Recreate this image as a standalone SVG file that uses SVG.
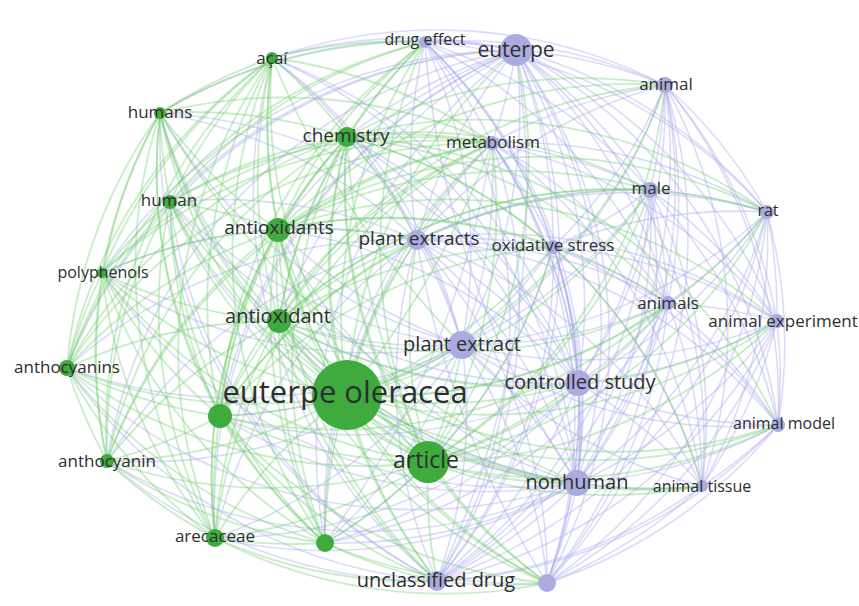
<svg xmlns="http://www.w3.org/2000/svg" width="859" height="606" viewBox="0 0 859 606">
<style>
.e path{fill:none}
.g{stroke:#72cc6e;stroke-width:1.8;stroke-opacity:.38}
.p{stroke:#aaaaf0;stroke-width:1.6;stroke-opacity:.42}
.ng{fill:#3fab3f}
.np{fill:#ababdf}
text{font-family:"Open Sans","DejaVu Sans",sans-serif;fill:#2e2e2e;text-anchor:middle}
.t16{font-size:16px}.t17{font-size:17px}.t19{font-size:19px}.t20{font-size:20px}.t21{font-size:21px}.t23{font-size:23px}.t30{font-size:31px}
</style>
<rect width="859" height="606" fill="#fff"/>
<g id="connectors" class="e">
<g class="p">
<path d="M777 321A500 500 0 0 1 778 425"/><path d="M777 321A500 500 0 0 1 578 383"/><path d="M777 321A500 500 0 0 1 702 486"/><path d="M777 321A500 500 0 0 1 462 345"/><path d="M777 321A500 500 0 0 1 577 483"/><path d="M777 321A500 500 0 0 1 547 583"/><path d="M777 321A500 500 0 0 1 437 581"/><path d="M777 321A500 500 0 0 0 417 240"/><path d="M777 321A500 500 0 0 0 516 50"/><path d="M777 321A500 500 0 0 0 492 143"/><path d="M777 321A500 500 0 0 0 665 85"/><path d="M777 321A500 500 0 0 0 650 190"/><path d="M777 321A500 500 0 0 0 553 247"/><path d="M777 321A500 500 0 0 0 767 212"/><path d="M777 321A500 500 0 0 0 668 303"/>
<path d="M778 425A500 500 0 0 1 578 383"/><path d="M778 425A500 500 0 0 1 702 486"/><path d="M778 425A500 500 0 0 1 462 345"/><path d="M778 425A500 500 0 0 1 577 483"/><path d="M778 425A500 500 0 0 1 547 583"/><path d="M778 425A500 500 0 0 1 437 581"/><path d="M778 425A500 500 0 0 0 417 240"/><path d="M778 425A500 500 0 0 0 516 50"/><path d="M778 425A500 500 0 0 0 665 85"/><path d="M778 425A500 500 0 0 0 650 190"/><path d="M778 425A500 500 0 0 0 553 247"/><path d="M778 425A500 500 0 0 0 767 212"/><path d="M778 425A500 500 0 0 0 668 303"/>
<path d="M578 383A500 500 0 0 1 702 486"/><path d="M578 383A500 500 0 0 1 462 345"/><path d="M578 383A500 500 0 0 1 577 483"/><path d="M578 383A500 500 0 0 1 547 583"/><path d="M578 383A500 500 0 0 1 437 581"/><path d="M578 383A500 500 0 0 1 325 543"/><path d="M578 383A500 500 0 0 1 215 538"/><path d="M578 383A500 500 0 0 1 220 416"/><path d="M578 383A500 500 0 0 1 279 321"/><path d="M578 383A500 500 0 0 1 170 202"/><path d="M578 383A500 500 0 0 0 278 230"/><path d="M578 383A500 500 0 0 0 160 113"/><path d="M578 383A500 500 0 0 0 272 58"/><path d="M578 383A500 500 0 0 0 347 137"/><path d="M578 383A500 500 0 0 0 417 240"/><path d="M578 383A500 500 0 0 0 425 42"/><path d="M578 383A500 500 0 0 0 516 50"/><path d="M578 383A500 500 0 0 0 492 143"/><path d="M578 383A500 500 0 0 0 665 85"/><path d="M578 383A500 500 0 0 0 650 190"/><path d="M578 383A500 500 0 0 0 553 247"/><path d="M578 383A500 500 0 0 0 767 212"/><path d="M578 383A500 500 0 0 0 668 303"/>
<path d="M702 486A500 500 0 0 1 462 345"/><path d="M702 486A500 500 0 0 1 577 483"/><path d="M702 486A500 500 0 0 1 547 583"/><path d="M702 486A500 500 0 0 1 437 581"/><path d="M702 486A500 500 0 0 0 417 240"/><path d="M702 486A500 500 0 0 0 516 50"/><path d="M702 486A500 500 0 0 0 492 143"/><path d="M702 486A500 500 0 0 0 665 85"/><path d="M702 486A500 500 0 0 0 650 190"/><path d="M702 486A500 500 0 0 0 553 247"/><path d="M702 486A500 500 0 0 0 767 212"/><path d="M702 486A500 500 0 0 0 668 303"/>
<path d="M462 345A500 500 0 0 1 577 483"/><path d="M462 345A500 500 0 0 1 547 583"/><path d="M462 345A500 500 0 0 1 437 581"/><path d="M462 345A500 500 0 0 1 325 543"/><path d="M462 345A500 500 0 0 1 215 538"/><path d="M462 345A500 500 0 0 1 220 416"/><path d="M462 345A500 500 0 0 1 107 461"/><path d="M462 345A500 500 0 0 1 67 368"/><path d="M462 345A500 500 0 0 1 279 321"/><path d="M462 345A500 500 0 0 1 102 273"/><path d="M462 345A500 500 0 0 1 170 202"/><path d="M462 345A500 500 0 0 1 278 230"/><path d="M462 345A500 500 0 0 1 160 113"/><path d="M462 345A500 500 0 0 0 272 58"/><path d="M462 345A500 500 0 0 0 347 137"/><path d="M462 345A500 500 0 0 0 417 240"/><path d="M462 345A500 500 0 0 0 425 42"/><path d="M462 345A500 500 0 0 0 516 50"/><path d="M462 345A500 500 0 0 0 492 143"/><path d="M462 345A500 500 0 0 0 665 85"/><path d="M462 345A500 500 0 0 0 650 190"/><path d="M462 345A500 500 0 0 0 553 247"/><path d="M462 345A500 500 0 0 0 767 212"/><path d="M462 345A500 500 0 0 0 668 303"/>
<path d="M577 483A500 500 0 0 1 547 583"/><path d="M577 483A500 500 0 0 1 437 581"/><path d="M577 483A500 500 0 0 1 325 543"/><path d="M577 483A500 500 0 0 1 215 538"/><path d="M577 483A500 500 0 0 1 220 416"/><path d="M577 483A500 500 0 0 1 107 461"/><path d="M577 483A500 500 0 0 1 67 368"/><path d="M577 483A500 500 0 0 1 279 321"/><path d="M577 483A500 500 0 0 1 102 273"/><path d="M577 483A500 500 0 0 1 170 202"/><path d="M577 483A500 500 0 0 1 278 230"/><path d="M577 483A500 500 0 0 1 160 113"/><path d="M577 483A500 500 0 0 0 272 58"/><path d="M577 483A500 500 0 0 0 347 137"/><path d="M577 483A500 500 0 0 0 417 240"/><path d="M577 483A500 500 0 0 0 425 42"/><path d="M577 483A500 500 0 0 0 516 50"/><path d="M577 483A500 500 0 0 0 492 143"/><path d="M577 483A500 500 0 0 0 665 85"/><path d="M577 483A500 500 0 0 0 650 190"/><path d="M577 483A500 500 0 0 0 553 247"/><path d="M577 483A500 500 0 0 0 767 212"/><path d="M577 483A500 500 0 0 0 668 303"/>
<path d="M547 583A500 500 0 0 1 437 581"/><path d="M547 583A500 500 0 0 0 417 240"/><path d="M547 583A500 500 0 0 0 516 50"/><path d="M547 583A500 500 0 0 0 492 143"/><path d="M547 583A500 500 0 0 0 665 85"/><path d="M547 583A500 500 0 0 0 650 190"/><path d="M547 583A500 500 0 0 0 553 247"/><path d="M547 583A500 500 0 0 0 767 212"/><path d="M547 583A500 500 0 0 0 668 303"/>
<path d="M437 581A500 500 0 0 1 107 461"/><path d="M437 581A500 500 0 0 1 67 368"/><path d="M437 581A500 500 0 0 1 170 202"/><path d="M437 581A500 500 0 0 1 160 113"/><path d="M437 581A500 500 0 0 1 272 58"/><path d="M437 581A500 500 0 0 1 417 240"/><path d="M437 581A500 500 0 0 0 425 42"/><path d="M437 581A500 500 0 0 0 516 50"/><path d="M437 581A500 500 0 0 0 492 143"/><path d="M437 581A500 500 0 0 0 665 85"/><path d="M437 581A500 500 0 0 0 650 190"/><path d="M437 581A500 500 0 0 0 553 247"/><path d="M437 581A500 500 0 0 0 767 212"/><path d="M437 581A500 500 0 0 0 668 303"/>
<path d="M325 543A500 500 0 0 1 417 240"/><path d="M325 543A500 500 0 0 1 516 50"/><path d="M325 543A500 500 0 0 1 492 143"/><path d="M325 543A500 500 0 0 0 668 303"/><path d="M325 543A500 500 0 0 0 553 247"/>
<path d="M215 538A500 500 0 0 1 417 240"/><path d="M215 538A500 500 0 0 1 516 50"/><path d="M220 416A500 500 0 0 1 516 50"/><path d="M107 461A500 500 0 0 1 417 240"/><path d="M107 461A500 500 0 0 1 516 50"/><path d="M67 368A500 500 0 0 1 417 240"/><path d="M67 368A500 500 0 0 1 516 50"/><path d="M279 321A500 500 0 0 1 516 50"/><path d="M102 273A500 500 0 0 1 417 240"/><path d="M102 273A500 500 0 0 1 516 50"/><path d="M170 202A500 500 0 0 1 417 240"/><path d="M170 202A500 500 0 0 1 516 50"/><path d="M278 230A500 500 0 0 1 516 50"/><path d="M160 113A500 500 0 0 1 417 240"/><path d="M160 113A500 500 0 0 1 516 50"/><path d="M272 58A500 500 0 0 1 417 240"/><path d="M272 58A500 500 0 0 1 516 50"/><path d="M272 58A500 500 0 0 1 665 85"/><path d="M347 137A500 500 0 0 1 516 50"/>
<path d="M417 240A500 500 0 0 1 425 42"/><path d="M417 240A500 500 0 0 1 516 50"/><path d="M417 240A500 500 0 0 1 492 143"/><path d="M417 240A500 500 0 0 1 665 85"/><path d="M417 240A500 500 0 0 1 650 190"/><path d="M417 240A500 500 0 0 1 553 247"/><path d="M417 240A500 500 0 0 1 767 212"/><path d="M417 240A500 500 0 0 1 668 303"/>
<path d="M425 42A500 500 0 0 1 516 50"/><path d="M425 42A500 500 0 0 1 492 143"/><path d="M425 42A500 500 0 0 1 665 85"/><path d="M425 42A500 500 0 0 1 650 190"/><path d="M425 42A500 500 0 0 1 553 247"/><path d="M425 42A500 500 0 0 1 767 212"/><path d="M425 42A500 500 0 0 1 668 303"/>
<path d="M516 50A500 500 0 0 1 492 143"/><path d="M516 50A500 500 0 0 1 665 85"/><path d="M516 50A500 500 0 0 1 650 190"/><path d="M516 50A500 500 0 0 1 553 247"/><path d="M516 50A500 500 0 0 1 767 212"/><path d="M516 50A500 500 0 0 1 668 303"/>
<path d="M492 143A500 500 0 0 1 665 85"/><path d="M492 143A500 500 0 0 1 650 190"/><path d="M492 143A500 500 0 0 1 553 247"/><path d="M492 143A500 500 0 0 1 767 212"/><path d="M492 143A500 500 0 0 1 668 303"/>
<path d="M665 85A500 500 0 0 1 650 190"/><path d="M665 85A500 500 0 0 1 553 247"/><path d="M665 85A500 500 0 0 1 767 212"/><path d="M665 85A500 500 0 0 1 668 303"/>
<path d="M650 190A500 500 0 0 1 553 247"/><path d="M650 190A500 500 0 0 1 767 212"/><path d="M650 190A500 500 0 0 1 668 303"/><path d="M553 247A500 500 0 0 1 767 212"/><path d="M553 247A500 500 0 0 1 668 303"/><path d="M767 212A500 500 0 0 1 668 303"/>
<path d="M516 50A900 900 0 0 1 437 581"/><path d="M492 143A900 900 0 0 1 325 543"/><path d="M425 42A900 900 0 0 0 577 483"/><path d="M417 240A900 900 0 0 0 547 583"/>
</g>
<g class="g">
<path d="M777 321A500 500 0 0 1 428 462"/><path d="M777 321A500 500 0 0 1 347 395"/><path d="M777 321A500 500 0 0 1 279 321"/><path d="M777 321A500 500 0 0 0 278 230"/>
<path d="M778 425A500 500 0 0 1 428 462"/><path d="M778 425A500 500 0 0 1 347 395"/><path d="M778 425A500 500 0 0 1 279 321"/><path d="M778 425A500 500 0 0 0 347 137"/>
<path d="M578 383A500 500 0 0 1 428 462"/><path d="M578 383A500 500 0 0 1 347 395"/>
<path d="M702 486A500 500 0 0 1 428 462"/><path d="M702 486A500 500 0 0 1 347 395"/><path d="M702 486A500 500 0 0 1 279 321"/><path d="M702 486A500 500 0 0 0 347 137"/>
<path d="M462 345A500 500 0 0 1 428 462"/><path d="M462 345A500 500 0 0 1 347 395"/><path d="M577 483A500 500 0 0 1 428 462"/><path d="M577 483A500 500 0 0 1 347 395"/>
<path d="M547 583A500 500 0 0 1 428 462"/><path d="M547 583A500 500 0 0 1 325 543"/><path d="M547 583A500 500 0 0 1 215 538"/><path d="M547 583A500 500 0 0 1 347 395"/><path d="M547 583A500 500 0 0 1 220 416"/><path d="M547 583A500 500 0 0 1 279 321"/><path d="M547 583A500 500 0 0 1 278 230"/><path d="M547 583A500 500 0 0 1 347 137"/>
<path d="M437 581A500 500 0 0 1 428 462"/><path d="M437 581A500 500 0 0 1 325 543"/><path d="M437 581A500 500 0 0 1 215 538"/><path d="M437 581A500 500 0 0 1 347 395"/><path d="M437 581A500 500 0 0 1 220 416"/><path d="M437 581A500 500 0 0 1 279 321"/><path d="M437 581A500 500 0 0 1 278 230"/><path d="M437 581A500 500 0 0 1 347 137"/>
<path d="M428 462A500 500 0 0 1 325 543"/><path d="M428 462A500 500 0 0 1 215 538"/><path d="M428 462A500 500 0 0 1 347 395"/><path d="M428 462A500 500 0 0 1 220 416"/><path d="M428 462A500 500 0 0 1 107 461"/><path d="M428 462A500 500 0 0 1 67 368"/><path d="M428 462A500 500 0 0 1 279 321"/><path d="M428 462A500 500 0 0 1 102 273"/><path d="M428 462A500 500 0 0 1 170 202"/><path d="M428 462A500 500 0 0 1 278 230"/><path d="M428 462A500 500 0 0 1 160 113"/><path d="M428 462A500 500 0 0 1 272 58"/><path d="M428 462A500 500 0 0 1 347 137"/><path d="M428 462A500 500 0 0 1 417 240"/><path d="M428 462A500 500 0 0 1 425 42"/><path d="M428 462A500 500 0 0 0 516 50"/><path d="M428 462A500 500 0 0 0 492 143"/><path d="M428 462A500 500 0 0 0 665 85"/><path d="M428 462A500 500 0 0 0 650 190"/><path d="M428 462A500 500 0 0 0 553 247"/><path d="M428 462A500 500 0 0 0 767 212"/><path d="M428 462A500 500 0 0 0 668 303"/>
<path d="M325 543A500 500 0 0 1 215 538"/><path d="M325 543A500 500 0 0 1 347 395"/><path d="M325 543A500 500 0 0 1 220 416"/><path d="M325 543A500 500 0 0 1 107 461"/><path d="M325 543A500 500 0 0 1 67 368"/><path d="M325 543A500 500 0 0 1 279 321"/><path d="M325 543A500 500 0 0 1 102 273"/><path d="M325 543A500 500 0 0 1 170 202"/><path d="M325 543A500 500 0 0 1 278 230"/><path d="M325 543A500 500 0 0 1 160 113"/><path d="M325 543A500 500 0 0 1 272 58"/><path d="M325 543A500 500 0 0 1 347 137"/>
<path d="M215 538A500 500 0 0 1 347 395"/><path d="M215 538A500 500 0 0 1 220 416"/><path d="M215 538A500 500 0 0 1 107 461"/><path d="M215 538A500 500 0 0 1 67 368"/><path d="M215 538A500 500 0 0 1 279 321"/><path d="M215 538A500 500 0 0 1 102 273"/><path d="M215 538A500 500 0 0 1 170 202"/><path d="M215 538A500 500 0 0 1 278 230"/><path d="M215 538A500 500 0 0 1 160 113"/><path d="M215 538A500 500 0 0 1 272 58"/><path d="M215 538A500 500 0 0 1 347 137"/><path d="M215 538A500 500 0 0 1 492 143"/>
<path d="M347 395A500 500 0 0 1 220 416"/><path d="M347 395A500 500 0 0 1 107 461"/><path d="M347 395A500 500 0 0 1 67 368"/><path d="M347 395A500 500 0 0 1 279 321"/><path d="M347 395A500 500 0 0 1 102 273"/><path d="M347 395A500 500 0 0 1 170 202"/><path d="M347 395A500 500 0 0 1 278 230"/><path d="M347 395A500 500 0 0 1 160 113"/><path d="M347 395A500 500 0 0 1 272 58"/><path d="M347 395A500 500 0 0 1 347 137"/><path d="M347 395A500 500 0 0 1 417 240"/><path d="M347 395A500 500 0 0 1 425 42"/><path d="M347 395A500 500 0 0 1 516 50"/><path d="M347 395A500 500 0 0 1 492 143"/><path d="M347 395A500 500 0 0 0 665 85"/><path d="M347 395A500 500 0 0 0 650 190"/><path d="M347 395A500 500 0 0 0 553 247"/><path d="M347 395A500 500 0 0 0 767 212"/><path d="M347 395A500 500 0 0 0 668 303"/>
<path d="M220 416A500 500 0 0 1 107 461"/><path d="M220 416A500 500 0 0 1 67 368"/><path d="M220 416A500 500 0 0 1 279 321"/><path d="M220 416A500 500 0 0 1 102 273"/><path d="M220 416A500 500 0 0 1 170 202"/><path d="M220 416A500 500 0 0 1 278 230"/><path d="M220 416A500 500 0 0 1 160 113"/><path d="M220 416A500 500 0 0 1 272 58"/><path d="M220 416A500 500 0 0 1 347 137"/><path d="M220 416A500 500 0 0 1 417 240"/><path d="M220 416A500 500 0 0 1 425 42"/><path d="M220 416A500 500 0 0 1 492 143"/><path d="M220 416A500 500 0 0 1 650 190"/><path d="M220 416A500 500 0 0 1 553 247"/><path d="M220 416A500 500 0 0 0 668 303"/>
<path d="M107 461A500 500 0 0 1 67 368"/><path d="M107 461A500 500 0 0 1 279 321"/><path d="M107 461A500 500 0 0 1 102 273"/><path d="M107 461A500 500 0 0 1 170 202"/><path d="M107 461A500 500 0 0 1 278 230"/><path d="M107 461A500 500 0 0 1 160 113"/><path d="M107 461A500 500 0 0 1 272 58"/><path d="M107 461A500 500 0 0 1 347 137"/><path d="M107 461A500 500 0 0 1 492 143"/>
<path d="M67 368A500 500 0 0 1 279 321"/><path d="M67 368A500 500 0 0 1 102 273"/><path d="M67 368A500 500 0 0 1 170 202"/><path d="M67 368A500 500 0 0 1 278 230"/><path d="M67 368A500 500 0 0 1 160 113"/><path d="M67 368A500 500 0 0 1 272 58"/><path d="M67 368A500 500 0 0 1 347 137"/><path d="M67 368A500 500 0 0 1 425 42"/><path d="M67 368A500 500 0 0 1 492 143"/>
<path d="M279 321A500 500 0 0 1 102 273"/><path d="M279 321A500 500 0 0 1 170 202"/><path d="M279 321A500 500 0 0 1 278 230"/><path d="M279 321A500 500 0 0 1 160 113"/><path d="M279 321A500 500 0 0 1 272 58"/><path d="M279 321A500 500 0 0 1 347 137"/><path d="M279 321A500 500 0 0 1 417 240"/><path d="M279 321A500 500 0 0 1 425 42"/><path d="M279 321A500 500 0 0 1 492 143"/><path d="M279 321A500 500 0 0 1 665 85"/><path d="M279 321A500 500 0 0 1 650 190"/><path d="M279 321A500 500 0 0 1 553 247"/><path d="M279 321A500 500 0 0 1 767 212"/><path d="M279 321A500 500 0 0 0 668 303"/>
<path d="M102 273A500 500 0 0 1 170 202"/><path d="M102 273A500 500 0 0 1 278 230"/><path d="M102 273A500 500 0 0 1 160 113"/><path d="M102 273A500 500 0 0 1 272 58"/><path d="M102 273A500 500 0 0 1 347 137"/><path d="M102 273A500 500 0 0 1 492 143"/>
<path d="M170 202A500 500 0 0 1 278 230"/><path d="M170 202A500 500 0 0 1 160 113"/><path d="M170 202A500 500 0 0 1 272 58"/><path d="M170 202A500 500 0 0 1 347 137"/><path d="M170 202A500 500 0 0 1 425 42"/><path d="M170 202A500 500 0 0 1 492 143"/>
<path d="M278 230A500 500 0 0 1 160 113"/><path d="M278 230A500 500 0 0 1 272 58"/><path d="M278 230A500 500 0 0 1 347 137"/><path d="M278 230A500 500 0 0 1 417 240"/><path d="M278 230A500 500 0 0 1 425 42"/><path d="M278 230A500 500 0 0 1 492 143"/><path d="M278 230A500 500 0 0 1 665 85"/><path d="M278 230A500 500 0 0 1 650 190"/><path d="M278 230A500 500 0 0 1 553 247"/><path d="M278 230A500 500 0 0 1 767 212"/><path d="M278 230A500 500 0 0 1 668 303"/>
<path d="M160 113A500 500 0 0 1 272 58"/><path d="M160 113A500 500 0 0 1 347 137"/><path d="M160 113A500 500 0 0 1 425 42"/><path d="M160 113A500 500 0 0 1 492 143"/>
<path d="M272 58A500 500 0 0 1 347 137"/><path d="M272 58A500 500 0 0 1 425 42"/><path d="M272 58A500 500 0 0 1 492 143"/>
<path d="M347 137A500 500 0 0 1 417 240"/><path d="M347 137A500 500 0 0 1 425 42"/><path d="M347 137A500 500 0 0 1 492 143"/><path d="M347 137A500 500 0 0 1 665 85"/><path d="M347 137A500 500 0 0 1 650 190"/><path d="M347 137A500 500 0 0 1 553 247"/><path d="M347 137A500 500 0 0 1 767 212"/><path d="M347 137A500 500 0 0 1 668 303"/>
<path d="M347 137A900 900 0 0 0 428 462"/><path d="M272 58A900 900 0 0 0 462 345"/><path d="M347 395A900 900 0 0 0 492 143"/><path d="M160 113A900 900 0 0 0 577 483"/>
</g>
</g>
<g id="n-polyphenols"><circle class="ng" cx="102" cy="273" r="5"/><text class="t16" x="103" y="278">polyphenols</text></g>
<g id="n-acai"><circle class="ng" cx="272" cy="58" r="6"/><text class="t17" x="272" y="64">açaí</text></g>
<g id="n-humans"><circle class="ng" cx="160" cy="113" r="6"/><text class="t17" x="160" y="118">humans</text></g>
<g id="n-drug-effect"><circle class="np" cx="425" cy="42" r="6"/><text class="t16" x="425" y="45">drug effect</text></g>
<g id="n-animal-tissue"><circle class="np" cx="702" cy="486" r="6"/><text class="t16" x="702" y="492">animal tissue</text></g>
<g id="n-human"><circle class="ng" cx="170" cy="202" r="7"/><text class="t17" x="169" y="206">human</text></g>
<g id="n-anthocyanin"><circle class="ng" cx="107" cy="461" r="7"/><text class="t17" x="107" y="467">anthocyanin</text></g>
<g id="n-metabolism"><circle class="np" cx="492" cy="143" r="7"/><text class="t17" x="493" y="148">metabolism</text></g>
<g id="n-oxidative-stress"><circle class="np" cx="553" cy="247" r="7"/><text class="t17" x="553" y="251">oxidative stress</text></g>
<g id="n-rat"><circle class="np" cx="767" cy="212" r="7"/><text class="t16" x="768" y="216">rat</text></g>
<g id="n-animals"><circle class="np" cx="668" cy="303" r="7"/><text class="t17" x="668" y="309">animals</text></g>
<g id="n-animal-experiment"><circle class="np" cx="777" cy="321" r="7"/><text class="t17" x="783" y="327">animal experiment</text></g>
<g id="n-animal-model"><circle class="np" cx="778" cy="425" r="7"/><text class="t16" x="784" y="429">animal model</text></g>
<g id="n-anthocyanins"><circle class="ng" cx="67" cy="368" r="8"/><text class="t17" x="67" y="373">anthocyanins</text></g>
<g id="n-animal"><circle class="np" cx="665" cy="85" r="8"/><text class="t17" x="666" y="90">animal</text></g>
<g id="n-male"><circle class="np" cx="650" cy="190" r="8"/><text class="t17" x="651" y="194">male</text></g>
<g id="n-arecaceae"><circle class="ng" cx="215" cy="538" r="9"/><text class="t17" x="215" y="542">arecaceae</text></g>
<g id="n-green-unlabelled-2"><circle class="ng" cx="325" cy="543" r="9"/></g>
<g id="n-purple-unlabelled"><circle class="np" cx="547" cy="583" r="9"/></g>
<g id="n-chemistry"><circle class="ng" cx="347" cy="137" r="10"/><text class="t19" x="346" y="142">chemistry</text></g>
<g id="n-plant-extracts"><circle class="np" cx="417" cy="240" r="10"/><text class="t19" x="419" y="245">plant extracts</text></g>
<g id="n-unclassified-drug"><circle class="np" cx="437" cy="581" r="10"/><text class="t20" x="436" y="587">unclassified drug</text></g>
<g id="n-green-unlabelled-1"><circle class="ng" cx="220" cy="416" r="12"/></g>
<g id="n-antioxidants"><circle class="ng" cx="278" cy="230" r="12"/><text class="t19" x="279" y="234">antioxidants</text></g>
<g id="n-antioxidant"><circle class="ng" cx="279" cy="321" r="12"/><text class="t20" x="278" y="323">antioxidant</text></g>
<g id="n-controlled-study"><circle class="np" cx="578" cy="383" r="13"/><text class="t20" x="580" y="389">controlled study</text></g>
<g id="n-nonhuman"><circle class="np" cx="577" cy="483" r="13"/><text class="t20" x="577" y="489">nonhuman</text></g>
<g id="n-plant-extract"><circle class="np" cx="462" cy="345" r="14"/><text class="t20" x="462" y="351">plant extract</text></g>
<g id="n-euterpe"><circle class="np" cx="516" cy="50" r="16"/><text class="t21" x="516" y="57">euterpe</text></g>
<g id="n-article"><circle class="ng" cx="428" cy="462" r="21"/><text class="t23" x="426" y="468">article</text></g>
<g id="n-euterpe-oleracea"><circle class="ng" cx="347" cy="395" r="35"/><text class="t30" x="345" y="403">euterpe oleracea</text></g>
</svg>
